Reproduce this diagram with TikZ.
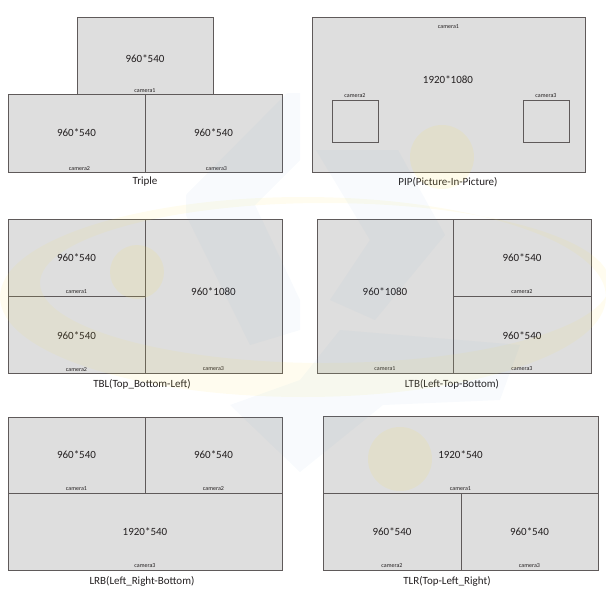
\documentclass[tikz,border=0pt]{standalone}
\usepackage{fontspec}
\setmainfont{Carlito}
\usetikzlibrary{positioning}

\definecolor{screengray}{RGB}{222,222,222}
\definecolor{framegray}{RGB}{95,90,90}
\definecolor{inkgray}{RGB}{35,31,32}
\definecolor{markyellow}{RGB}{250,225,80}
\definecolor{markblue}{RGB}{110,165,215}

\begin{document}
\begin{tikzpicture}[x=1pt, y=-1pt,
    screen_style/.style = {draw=framegray, fill=screengray, line width=0.9pt, rectangle,
                           inner sep=0pt, outer sep=0pt, anchor=north west},
    size_style/.style = {font=\fontsize{11}{11}\selectfont, text=inkgray},
    cam_style/.style = {font=\fontsize{6}{6}\selectfont, text=inkgray, inner sep=1pt},
    title_style/.style = {font=\fontsize{11}{11}\selectfont, text=inkgray}]

\useasboundingbox (0,0) rectangle (606,606);

% Triple
\node[screen_style, minimum width=136pt, minimum height=77pt] (t1) at (77,17) {};
\node[screen_style, minimum width=137pt, minimum height=78pt] (t2) at (8,94) {};
\node[screen_style, minimum width=137pt, minimum height=78pt] (t3) at (145,94) {};
\node[size_style, yshift=-3pt] (t1s) at (t1.center) {960*540};
\node[size_style] (t2s) at (t2.center) {960*540};
\node[size_style] (t3s) at (t3.center) {960*540};
\node[cam_style, above=0pt of t1.south] (t1c) {camera1};
\node[cam_style, above=0pt of t2.south, xshift=3pt] (t2c) {camera2};
\node[cam_style, above=0pt of t3.south, xshift=3pt] (t3c) {camera3};
\node[title_style] (tt) at (145,182) {Triple};

% PIP
\node[screen_style, minimum width=273pt, minimum height=155pt] (p1) at (312,17) {};
\node[screen_style, minimum width=46pt, minimum height=42pt] (p2) at (332,100) {};
\node[screen_style, minimum width=46pt, minimum height=42pt] (p3) at (523,100) {};
\node[size_style] (p1s) at (448,80) {1920*1080};
\node[cam_style, below=6pt of p1.north] (p1c) {camera1};
\node[cam_style, above=1pt of p2.north] (p2c) {camera2};
\node[cam_style, above=1pt of p3.north] (p3c) {camera3};
\node[title_style] (pt) at (448,182) {PIP(Picture-In-Picture)};

% TBL
\node[screen_style, minimum width=137pt, minimum height=77pt] (b1) at (8,219) {};
\node[screen_style, minimum width=137pt, minimum height=77pt] (b2) at (8,296) {};
\node[screen_style, minimum width=137pt, minimum height=154pt] (b3) at (145,219) {};
\node[size_style] (b1s) at (b1.center) {960*540};
\node[size_style, yshift=-1pt] (b2s) at (b2.center) {960*540};
\node[size_style, yshift=4pt] (b3s) at (b3.center) {960*1080};
\node[cam_style, above=1pt of b1.south] (b1c) {camera1};
\node[cam_style, above=0pt of b2.south] (b2c) {camera2};
\node[cam_style, above=1.5pt of b3.south] (b3c) {camera3};
\node[title_style] (bt) at (142,384) {TBL(Top\_Bottom-Left)};

% LTB
\node[screen_style, minimum width=136pt, minimum height=154pt] (l1) at (317,219) {};
\node[screen_style, minimum width=138pt, minimum height=77pt] (l2) at (453,219) {};
\node[screen_style, minimum width=138pt, minimum height=77pt] (l3) at (453,296) {};
\node[size_style, yshift=4pt] (l1s) at (l1.center) {960*1080};
\node[size_style] (l2s) at (l2.center) {960*540};
\node[size_style, yshift=-1pt] (l3s) at (l3.center) {960*540};
\node[cam_style, above=1.5pt of l1.south] (l1c) {camera1};
\node[cam_style, above=1pt of l2.south] (l2c) {camera2};
\node[cam_style, above=1.5pt of l3.south] (l3c) {camera3};
\node[title_style] (lt) at (452,384) {LTB(Left-Top-Bottom)};

% LRB
\node[screen_style, minimum width=137pt, minimum height=76pt] (r1) at (8,417) {};
\node[screen_style, minimum width=137pt, minimum height=76pt] (r2) at (145,417) {};
\node[screen_style, minimum width=274pt, minimum height=77pt] (r3) at (8,493) {};
\node[size_style] (r1s) at (r1.center) {960*540};
\node[size_style] (r2s) at (r2.center) {960*540};
\node[size_style] (r3s) at (r3.center) {1920*540};
\node[cam_style, above=1pt of r1.south] (r1c) {camera1};
\node[cam_style, above=1pt of r2.south] (r2c) {camera2};
\node[cam_style, above=1.5pt of r3.south] (r3c) {camera3};
\node[title_style] (rt) at (142,581) {LRB(Left\_Right-Bottom)};

% TLR
\node[screen_style, minimum width=275pt, minimum height=77pt] (s1) at (323,416) {};
\node[screen_style, minimum width=138pt, minimum height=77pt] (s2) at (323,493) {};
\node[screen_style, minimum width=137pt, minimum height=77pt] (s3) at (461,493) {};
\node[size_style] (s1s) at (s1.center) {1920*540};
\node[size_style] (s2s) at (s2.center) {960*540};
\node[size_style] (s3s) at (s3.center) {960*540};
\node[cam_style, above=1pt of s1.south] (s1c) {camera1};
\node[cam_style, above=1.5pt of s2.south] (s2c) {camera2};
\node[cam_style, above=1.5pt of s3.south] (s3c) {camera3};
\node[title_style] (st) at (447,581) {TLR(Top-Left\_Right)};

% faint logo watermark
\fill[markyellow, opacity=0.09, even odd rule] (303,297) ellipse [x radius=303, y radius=100]
    (325,283) ellipse [x radius=285, y radius=80];
\fill[markyellow, opacity=0.12] (137,272) circle [radius=27];
\fill[markyellow, opacity=0.12] (442,157) circle [radius=32];
\fill[markyellow, opacity=0.12] (400,459) circle [radius=32];
\fill[markblue, opacity=0.05] (287,93) -- (300,93) -- (300,160) -- (255,205) -- (300,300)
    -- (300,330) -- (250,345) -- (186,215) -- (186,195) -- cycle;
\fill[markblue, opacity=0.05] (316,150) -- (398,150) -- (445,235) -- (375,320) -- (330,300)
    -- (370,240) -- cycle;
\fill[markblue, opacity=0.05] (340,330) -- (520,345) -- (500,400) -- (383,405) -- (300,472)
    -- (230,405) -- (300,380) -- cycle;
\end{tikzpicture}
\end{document}
